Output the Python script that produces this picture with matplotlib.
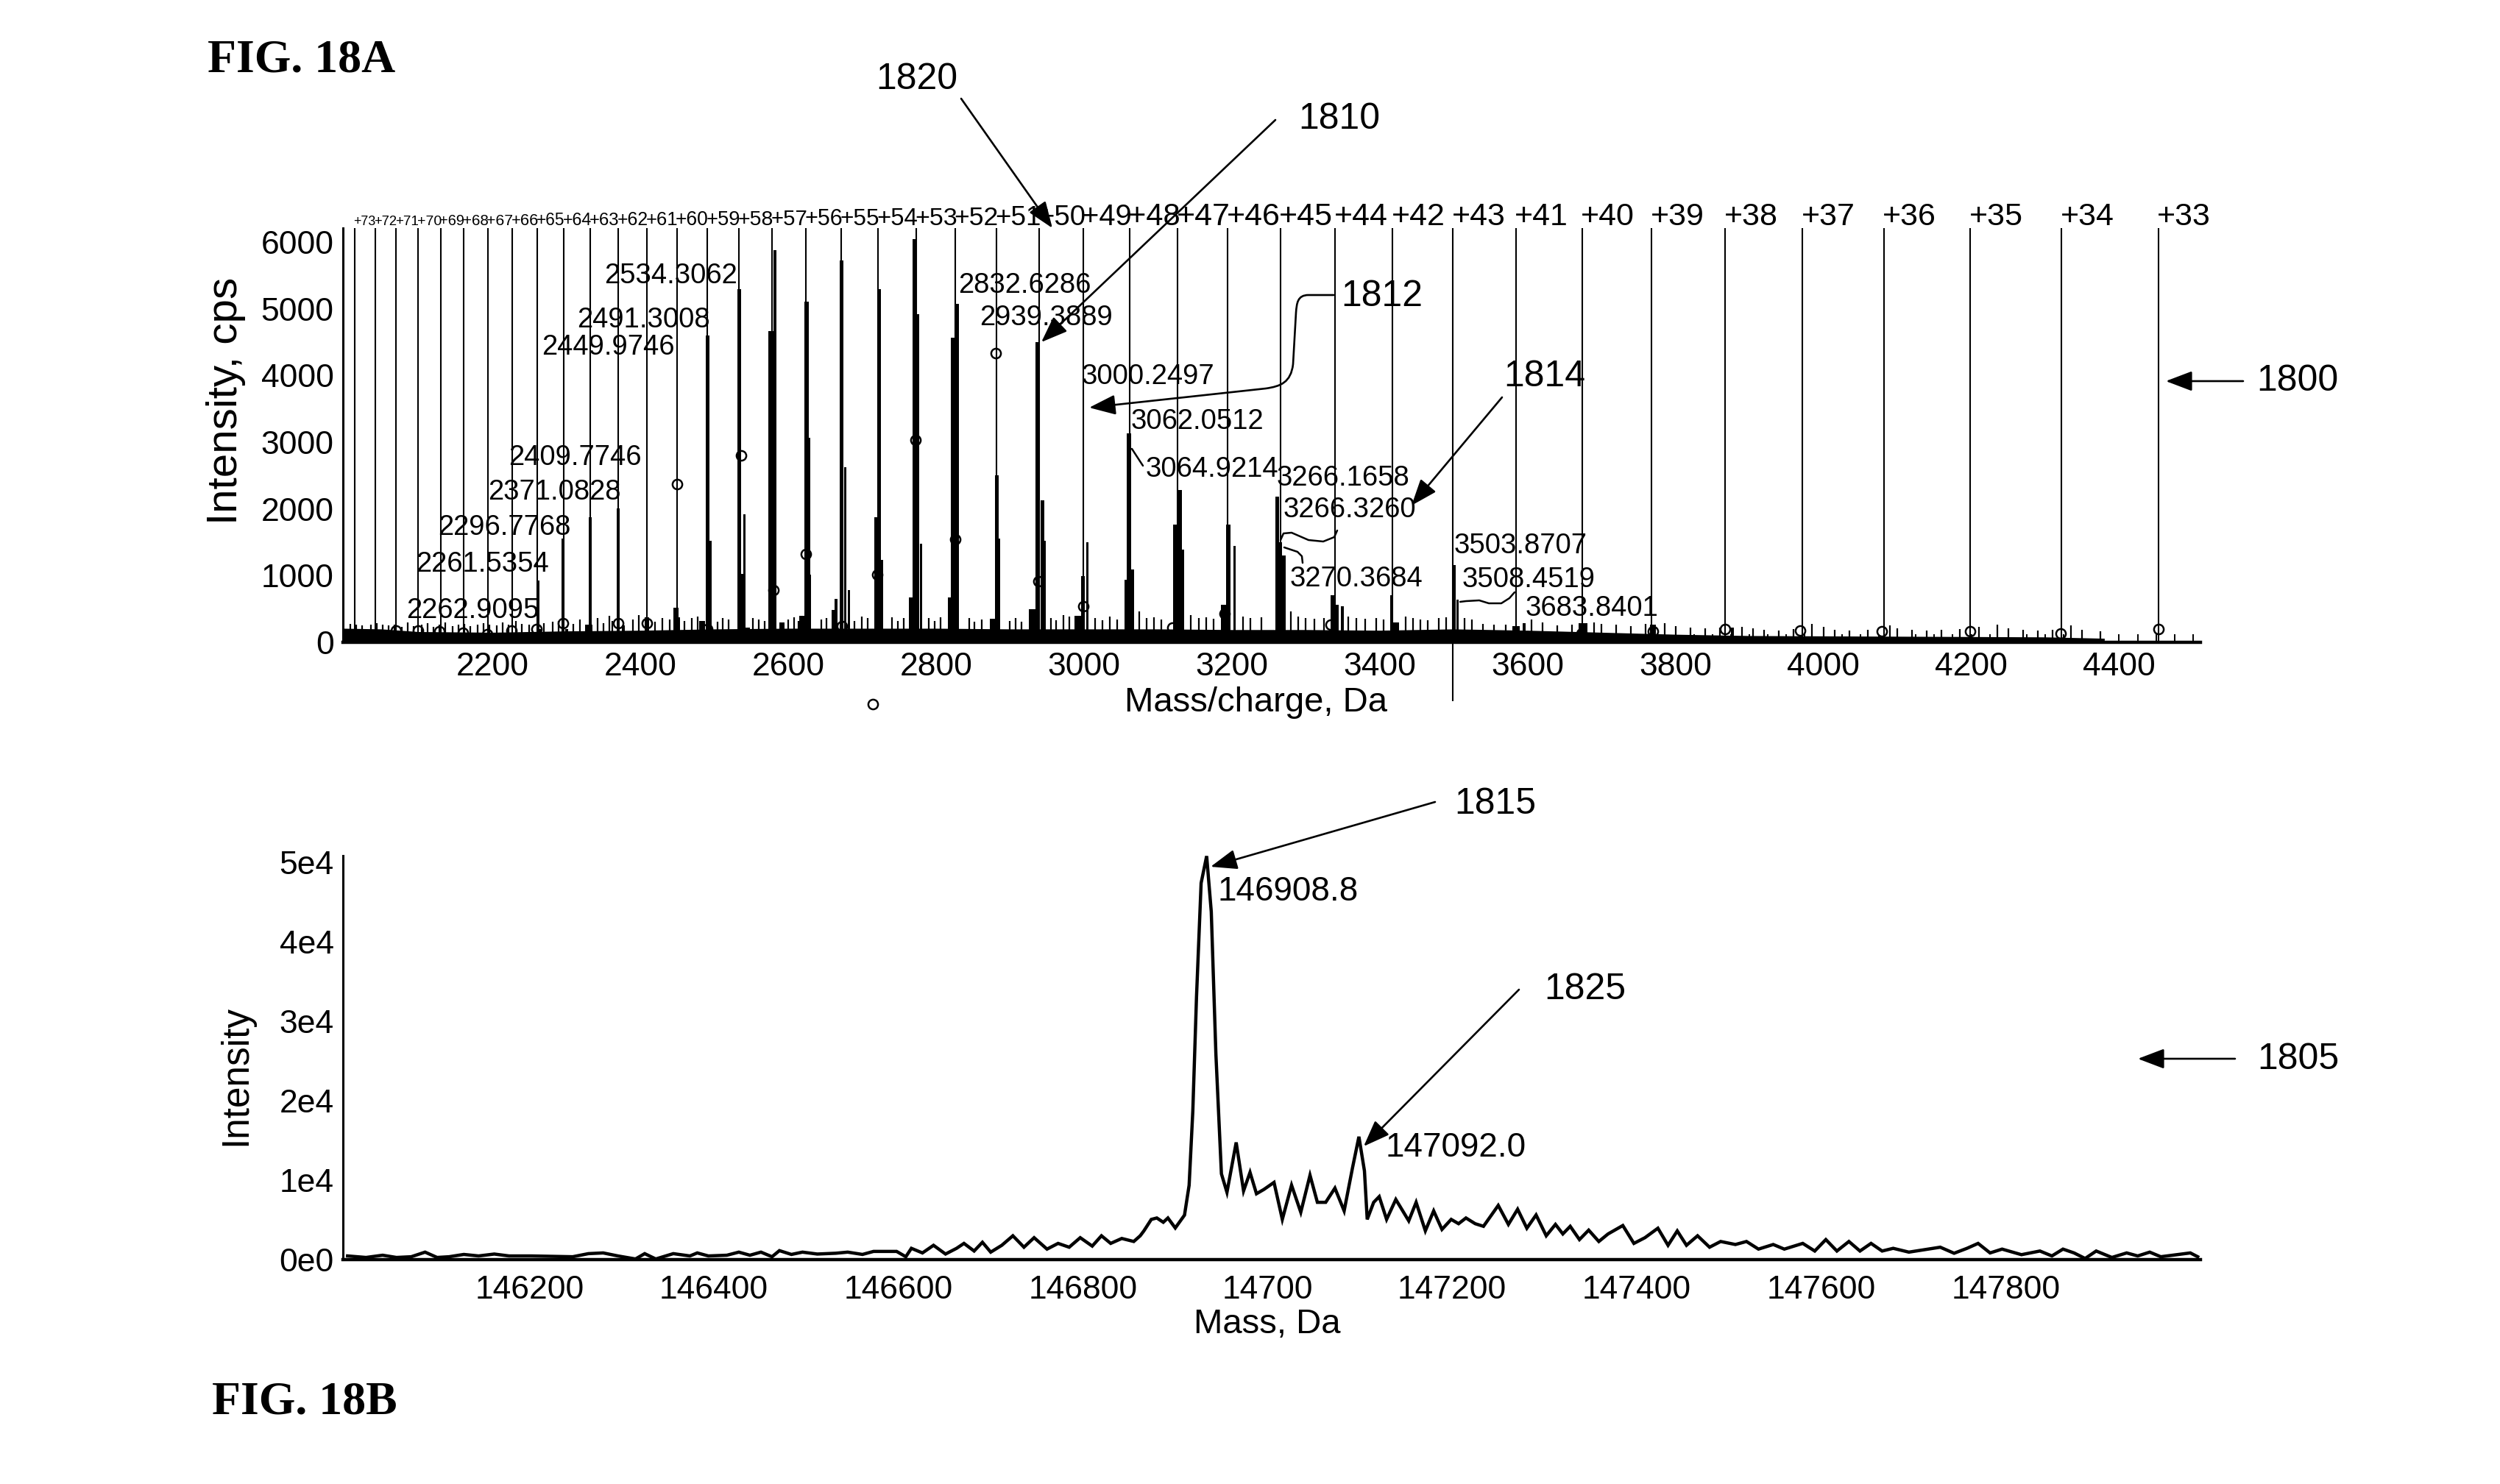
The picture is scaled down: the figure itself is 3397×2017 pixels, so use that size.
import matplotlib
matplotlib.use('Agg')
import matplotlib.pyplot as plt
from matplotlib.path import Path
from matplotlib.patches import FancyArrowPatch
from matplotlib.ticker import MultipleLocator

W, H, DPI = 3397, 2017, 100

# ---------------- FIG. 18A data (m/z spectrum) ----------------
charge_mz = [2013.5, 2041.4, 2070.1, 2099.7, 2130.1, 2161.4, 2193.7, 2226.9, 2261.1, 2296.5,
             2332.9, 2370.5, 2409.3, 2449.5, 2491.0, 2533.9, 2578.4, 2624.4, 2672.1, 2721.5,
             2772.9, 2826.2, 2881.6, 2939.2, 2999.1, 3061.6, 3126.7, 3194.7, 3265.6, 3339.8,
             3417.5, 3498.8, 3584.2, 3673.7, 3767.9, 3867.0, 3971.5, 4081.8, 4198.4, 4321.9, 4452.8]
charge_labels = ['+73', '+72', '+71', '+70', '+69', '+68', '+67', '+66', '+65', '+64',
                 '+63', '+62', '+61', '+60', '+59', '+58', '+57', '+56', '+55', '+54',
                 '+53', '+52', '+51', '+50', '+49', '+48', '+47', '+46', '+45', '+44',
                 '+42', '+43', '+41', '+40', '+39', '+38', '+37', '+36', '+35', '+34', '+33']
long_line_mz = 3498.8

peak_mz = [2262, 2264.5, 2296, 2301, 2330, 2332, 2370, 2377, 2409, 2448, 2452,
           2484, 2491, 2494, 2534, 2538.3, 2540.8, 2545, 2578, 2582, 2592,
           2622, 2625, 2627.5, 2629.5, 2661, 2664.6, 2672.6, 2677.5, 2682.5,
           2720, 2723, 2727, 2767, 2771, 2775, 2779.5, 2819, 2822.3, 2828, 2829.5,
           2878, 2882.3, 2885.6, 2933, 2937.5, 2943.6, 2947, 2992, 2999, 3004.5,
           3057.5, 3061, 3065, 3124.5, 3130, 3133.5, 3189, 3195.5, 3204,
           3261.5, 3265.5, 3269.5, 3336, 3343, 3349.4, 3416, 3421, 3500, 3505.5,
           3584, 3595, 3675, 3770, 3877]
peak_int = [930, 200, 1560, 200, 260, 1880, 2006, 250, 370, 520, 380,
            320, 4600, 1520, 5300, 1030, 1920, 220, 4670, 5880, 300,
            400, 5110, 3070, 1010, 480, 650, 5730, 2620, 780,
            1880, 5300, 1240, 670, 6040, 4920, 1480, 670, 4570, 2030, 5070,
            350, 2500, 1560, 500, 4500, 2130, 1520, 400, 990, 1500,
            940, 3130, 1090, 1770, 2280, 1390, 560, 1770, 1450,
            2180, 1500, 1300, 710, 560, 540, 710, 300, 1160, 640,
            240, 290, 290, 270, 220]
peak_w = [3, 4, 4, 4, 10, 4, 4, 4, 6, 7, 4,
          8, 5, 5, 5, 3, 2.5, 6, 9, 4, 7,
          14, 5, 4, 3, 4, 4, 5, 3, 3,
          7, 5, 4, 7, 5, 5, 3, 6, 5, 4, 4,
          10, 5, 3, 14, 5, 5, 3, 10, 5, 3,
          5, 5.5, 5, 7, 5.5, 5, 7, 6.5, 3,
          5, 5, 7, 5, 4, 4, 3, 10, 5, 3,
          10, 4, 12, 8, 4]

base_mz = [1998, 2050, 2100, 2200, 2300, 2400, 2500, 2600, 2700, 2800, 2900, 3000,
           3100, 3200, 3300, 3400, 3500, 3600, 3700, 3800, 3900, 4000, 4100, 4200, 4300, 4380]
base_int = [210, 200, 160, 150, 170, 180, 200, 210, 210, 210, 200, 200,
            200, 190, 190, 180, 200, 180, 150, 120, 100, 95, 90, 85, 80, 60]

noise_mz = [2008, 2016, 2024, 2036, 2044, 2052, 2060, 2068, 2078, 2086, 2094, 2104, 2112, 2120,
            2128, 2136, 2146, 2154, 2162, 2170, 2180, 2188, 2196, 2206, 2214, 2222, 2232, 2240,
            2250, 2270, 2282, 2290, 2310, 2318, 2342, 2350, 2358, 2362, 2390, 2398, 2420, 2430,
            2440, 2460, 2470, 2478, 2505, 2512, 2520, 2552, 2560, 2568, 2600, 2608, 2614, 2645,
            2652, 2690, 2700, 2708, 2740, 2748, 2756, 2790, 2798, 2806, 2845, 2852, 2862, 2900,
            2908, 2916, 2955, 2962, 2972, 2980, 3015, 3025, 3035, 3045, 3075, 3085, 3095, 3105,
            3145, 3155, 3165, 3175, 3215, 3225, 3240, 3280, 3290, 3300, 3312, 3325, 3358, 3368,
            3380, 3395, 3405, 3435, 3445, 3455, 3465, 3480, 3490, 3515, 3525, 3540, 3555, 3570,
            3605, 3620, 3640, 3660, 3690, 3700, 3720, 3740, 3760, 3785, 3800, 3820, 3840, 3860,
            3890, 3905, 3920, 3940, 3960, 3985, 4000, 4015, 4035, 4060, 4090, 4100, 4120, 4140,
            4160, 4185, 4210, 4235, 4250, 4270, 4290, 4310, 4335, 4350, 4375]
noise_int = [280, 260, 250, 260, 290, 270, 250, 260, 230, 300, 240, 260, 290, 230,
             270, 300, 240, 260, 280, 240, 260, 290, 260, 250, 300, 270, 320, 280,
             260, 290, 310, 320, 280, 340, 360, 290, 400, 320, 340, 410, 310, 360,
             340, 320, 360, 390, 310, 360, 340, 360, 340, 320, 340, 380, 320, 340,
             360, 320, 390, 360, 380, 320, 360, 360, 320, 380, 360, 310, 340, 320,
             360, 310, 360, 330, 410, 390, 360, 330, 390, 340, 460, 360, 380, 340,
             410, 360, 380, 350, 390, 360, 380, 460, 390, 360, 350, 360, 390, 360,
             350, 360, 340, 390, 360, 340, 330, 360, 380, 360, 340, 280, 260, 260,
             340, 300, 250, 270, 300, 280, 270, 240, 280, 290, 240, 220, 210, 220,
             230, 210, 190, 180, 200, 280, 230, 190, 180, 190, 250, 210, 190, 180,
             190, 200, 230, 270, 210, 190, 180, 190, 250, 190, 170]

centroid_mz = [2069.6, 2099.3, 2128.3, 2160.0, 2193.3, 2225.7, 2260.0, 2296.0, 2370.0, 2409.0,
               2449.5, 2491.0, 2536.0, 2580.0, 2624.0, 2673.0, 2721.0, 2772.0, 2826.0, 2881.0,
               2939.0, 2999.0, 3120.0, 3190.0, 3334.0, 3673.0, 3770.0, 3867.0, 3969.0, 4079.0,
               4198.0, 4321.0, 4453.0, 2715.0]
centroid_int = [178, 178, 160, 140, 120, 178, 200, 284, 284, 284,
                2368, 200, 2800, 780, 1320, 240, 1010, 3030, 1540, 4330,
                920, 540, 220, 430, 270, 135, 160, 200, 180, 160,
                160, 135, 200, -930]

peak_label_text = ['2534.3062', '2491.3008', '2449.9746', '2409.7746', '2371.0828', '2296.7768',
                   '2261.5354', '2262.9095', '2832.6286', '2939.3889', '3000.2497', '3062.0512',
                   '3064.9214', '3266.1658', '3266.3260', '3270.3684', '3503.8707', '3508.4519',
                   '3683.8401']
peak_label_x = [2351, 2315, 2267, 2222, 2194, 2127, 2097, 2084, 2830, 2859, 2997, 3063,
                3083, 3261, 3269, 3278, 3500, 3511, 3597]
peak_label_y = [5495, 4826, 4420, 2771, 2246, 1720, 1170, 477, 5350, 4866, 3980, 3310,
                2590, 2460, 1990, 950, 1447, 943, 510]

top_xticks = [2200, 2400, 2600, 2800, 3000, 3200, 3400, 3600, 3800, 4000, 4200, 4400]
top_yticks = [0, 1000, 2000, 3000, 4000, 5000, 6000]

# ---------------- FIG. 18B data (deconvoluted mass) ----------------
mass_da = [146003, 146023, 146041, 146056, 146072, 146087, 146100, 146113, 146129, 146145,
           146162, 146178, 146202, 146227, 146247, 146264, 146280, 146296, 146315, 146325,
           146337, 146356, 146374, 146382, 146394, 146414, 146427, 146439, 146451, 146463,
           146471, 146484, 146496, 146512, 146532, 146545, 146561, 146573, 146598, 146608,
           146614, 146626, 146638, 146651, 146663, 146671, 146682, 146691, 146700, 146712,
           146724, 146736, 146747, 146761, 146773, 146785, 146797, 146810, 146820, 146830,
           146842, 146855, 146862, 146866, 146874, 146880, 146887, 146892, 146900, 146910,
           146915, 146919, 146923, 146928, 146934, 146939, 146944, 146950, 146956, 146966,
           146974, 146981, 146988, 146996, 147007, 147016, 147026, 147036, 147046, 147054,
           147063, 147073, 147083, 147092, 147099, 147105, 147108, 147115, 147121, 147129,
           147139, 147153, 147161, 147171, 147180, 147189, 147199, 147207, 147215, 147225,
           147234, 147250, 147261, 147271, 147281, 147291, 147302, 147312, 147320, 147328,
           147338, 147348, 147359, 147369, 147385, 147397, 147409, 147423, 147434, 147444,
           147454, 147466, 147479, 147491, 147507, 147519, 147532, 147548, 147560, 147580,
           147593, 147605, 147617, 147630, 147642, 147654, 147666, 147678, 147695, 147711,
           147729, 147744, 147758, 147770, 147783, 147796, 147817, 147837, 147850, 147862,
           147874, 147886, 147898, 147915, 147931, 147943, 147956, 147968, 147984, 148000, 148008]
mass_int = [460, 270, 550, 270, 360, 940, 270, 360, 650, 460,
            700, 460, 460, 410, 360, 750, 840, 460, 80, 750,
            80, 750, 460, 840, 460, 550, 940, 550, 940, 360,
            1130, 650, 940, 700, 800, 940, 650, 1030, 1030, 360,
            1420, 840, 1800, 700, 1420, 2040, 1080, 2180, 940, 1800,
            3000, 1560, 2760, 1320, 2040, 1560, 2760, 1700, 3000, 2040,
            2660, 2280, 3000, 3620, 5060, 5240, 4700, 5240, 3980, 5600,
            9360, 18700, 33060, 47400, 50800, 43800, 25900, 10800, 8470, 14750,
            8650, 10980, 8290, 8830, 9720, 5060, 9370, 5960, 10620, 7210,
            7210, 9000, 6130, 11520, 15470, 11160, 5060, 7210, 7930, 5060,
            7570, 4880, 7210, 3620, 6130, 3800, 5060, 4520, 5240, 4520,
            4190, 6820, 4430, 6340, 3950, 5620, 3000, 4430, 3230, 4190,
            2520, 3710, 2280, 3230, 4290, 2040, 2760, 3950, 1800, 3610,
            1800, 3000, 1560, 2280, 1900, 2280, 1320, 1900, 1320, 2040,
            1080, 2520, 1080, 2280, 1080, 2040, 1080, 1420, 940, 1230,
            1560, 800, 1420, 2040, 840, 1320, 620, 1080, 460, 1320,
            840, 140, 1080, 270, 840, 460, 940, 360, 600, 840, 360]

bot_xticks = [146200, 146400, 146600, 146800, 147000, 147200, 147400, 147600, 147800]
bot_xticklabels = ['146200', '146400', '146600', '146800', '14700', '147200', '147400', '147600', '147800']
bot_yticks = [0, 10000, 20000, 30000, 40000, 50000]
bot_yticklabels = ['0e0', '1e4', '2e4', '3e4', '4e4', '5e4']

# ---------------- styling ----------------
SANS = ['Liberation Sans', 'DejaVu Sans']
SERIF = ['Liberation Serif', 'DejaVu Serif']
plt.rcParams['font.family'] = SANS
LABEL_EM = 1.696

TICK_FS = 32
PEAK_FS = 27.5
CHG_FS = 31
CALL_FS = 36

fig = plt.figure(figsize=(W / DPI, H / DPI), dpi=DPI)
fig.patch.set_facecolor('white')


def frac(l, t, r, b):
    return [l / W, 1 - b / H, (r - l) / W, (b - t) / H]


# ---------- top axes ----------
ax1 = fig.add_axes(frac(466, 310, 2990, 873))
X0, X1, Y0, Y1 = 1998, 4510, 0, 6210
ax1.set_xlim(X0, X1)
ax1.set_ylim(Y0, Y1)
px_per_da = (2990 - 466) / (X1 - X0)

ax1.fill_between(base_mz, 0, base_int, color='black', lw=0, zorder=2)
ax1.vlines(noise_mz, 0, noise_int, color='black', lw=1.6, zorder=2)
ax1.bar(peak_mz, peak_int, width=peak_w, color='black', lw=0, zorder=3)
short = [m for m in charge_mz if m != long_line_mz]
ax1.vlines(short, 0, Y1, color='black', lw=1.5, zorder=4)
ax1.vlines([long_line_mz], -880, Y1, color='black', lw=1.5, zorder=4, clip_on=False)
ax1.plot(centroid_mz, centroid_int, 'o', mfc='none', mec='black', ms=9.5, mew=1.8,
         zorder=5, clip_on=False)

for i, (m, lab) in enumerate(zip(charge_mz, charge_labels)):
    if i + 1 < len(charge_mz):
        sp = (charge_mz[i + 1] - m) * px_per_da
        fs = min(CHG_FS, 1.08 * sp / (LABEL_EM * 1.389))
    else:
        fs = CHG_FS
    ax1.text(m - 1.5, Y1 + 40, lab, ha='left', va='baseline', fontsize=fs,
             clip_on=False, zorder=6)

for s, x, y in zip(peak_label_text, peak_label_x, peak_label_y):
    ax1.text(x, y, s, ha='left', va='center', fontsize=PEAK_FS, zorder=7)

for sp in ['top', 'right']:
    ax1.spines[sp].set_visible(False)
ax1.spines['left'].set_linewidth(2.2)
ax1.spines['bottom'].set_linewidth(3.2)
ax1.set_xticks(top_xticks)
ax1.set_xticklabels([str(t) for t in top_xticks])
ax1.xaxis.set_minor_locator(MultipleLocator(25))
ax1.tick_params(axis='x', which='both', direction='in', length=8, width=1.4,
                labelsize=TICK_FS, pad=9)
ax1.set_yticks(top_yticks)
ax1.set_yticklabels([str(t) for t in top_yticks])
ax1.tick_params(axis='y', length=0, labelsize=TICK_FS, pad=9)

# ---------- bottom axes ----------
ax2 = fig.add_axes(frac(466, 1163, 2990, 1712))
ax2.plot(mass_da, mass_int, color='black', lw=3.2, solid_joinstyle='miter')
ax2.set_xlim(145998, 148011)
ax2.set_ylim(0, 50850)
for sp in ['top', 'right']:
    ax2.spines[sp].set_visible(False)
ax2.spines['left'].set_linewidth(2.2)
ax2.spines['bottom'].set_linewidth(3.2)
ax2.set_xticks(bot_xticks)
ax2.set_xticklabels(bot_xticklabels)
ax2.set_yticks(bot_yticks)
ax2.set_yticklabels(bot_yticklabels)
ax2.tick_params(axis='x', length=0, labelsize=TICK_FS, pad=15)
ax2.tick_params(axis='y', length=0, labelsize=TICK_FS, pad=9)

# ---------- overlay for labels / callouts (pixel coordinates) ----------
ov = fig.add_axes([0, 0, 1, 1])
ov.set_xlim(0, W)
ov.set_ylim(H, 0)
ov.axis('off')
ov.set_zorder(10)
ov.patch.set_visible(False)

ov.text(282, 82, 'FIG. 18A', family=SERIF, fontweight='bold', fontsize=46, ha='left', va='center')
ov.text(288, 1906, 'FIG. 18B', family=SERIF, fontweight='bold', fontsize=46, ha='left', va='center')

ov.text(307, 545, 'Intensity, cps', rotation=90, fontsize=42, ha='center', va='center')
ov.text(1707, 955, 'Mass/charge, Da', fontsize=34, ha='center', va='center')
ov.text(321, 1461, 'Intensity', rotation=90, fontsize=37, ha='center', va='center')
ov.text(1722, 1800, 'Mass, Da', fontsize=34, ha='center', va='center')

ov.text(1655, 1212, '146908.8', fontsize=33, ha='left', va='center')
ov.text(1883, 1560, '147092.0', fontsize=33, ha='left', va='center')

callouts = [('1820', 1246, 108), ('1810', 1820, 162), ('1812', 1878, 403), ('1814', 2099, 512),
            ('1800', 3122, 518), ('1815', 2032, 1093), ('1825', 2154, 1345), ('1805', 3123, 1440)]
for s, x, y in callouts:
    ov.text(x, y, s, fontsize=CALL_FS, ha='center', va='center')

AST = '-|>,head_length=1.0,head_width=0.38'
arrows = [((1306, 134), (1430, 310)), ((1733, 163), (1415, 465)), ((2041, 540), (1918, 687)),
          ((3048, 518), (2943, 518)), ((1950, 1090), (1645, 1178)), ((2064, 1345), (1853, 1558)),
          ((3037, 1439), (2905, 1439))]
for a, b in arrows:
    ov.add_patch(FancyArrowPatch(a, b, arrowstyle=AST, mutation_scale=22, lw=1.9,
                                 color='black', shrinkA=0, shrinkB=0))

verts = [(1812, 401), (1778, 401), (1763, 401), (1762, 412), (1761, 425), (1757, 495),
         (1754, 520), (1740, 525), (1720, 528), (1480, 554)]
codes = [Path.MOVETO, Path.LINETO, Path.CURVE4, Path.CURVE4, Path.CURVE4, Path.LINETO,
         Path.CURVE4, Path.CURVE4, Path.CURVE4, Path.LINETO]
ov.add_patch(FancyArrowPatch(path=Path(verts, codes), arrowstyle=AST, mutation_scale=22,
                             lw=1.9, color='black'))

squiggles = [
    [(1538, 610), (1553, 633)],
    [(1745, 744), (1763, 750), (1769, 756), (1770, 765)],
    [(1740, 734), (1744, 725), (1755, 724), (1778, 734), (1798, 736), (1813, 730), (1817, 721)],
    [(1984, 818), (1992, 817), (2010, 816), (2023, 820), (2040, 820), (2051, 813), (2058, 805)],
]
for pts in squiggles:
    xs, ys = zip(*pts)
    ov.plot(xs, ys, color='black', lw=1.8, solid_capstyle='round')

fig.savefig('out.png', dpi=DPI, facecolor='white')
